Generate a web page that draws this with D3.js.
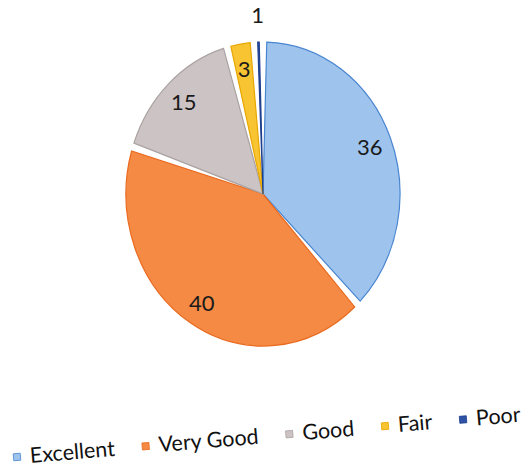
<!DOCTYPE html>
<html><head><meta charset="utf-8">
<script src="https://cdn.jsdelivr.net/npm/d3@7"></script>
<style>html,body{margin:0;padding:0;background:#fff;}</style>
</head><body>
<svg id="c" width="532" height="470"></svg>
<script>
const categories = ["Excellent", "Very Good", "Good", "Fair", "Poor"];
const values = [36, 40, 15, 3, 1];
const fills = ["#9ec4ee", "#f58a45", "#ccc4c4", "#f8c432", "#2d52a6"];
const edges = ["#4a86d0", "#ea6a1e", "#aaa1a1", "#e8a700", "#1f3f8f"];

const svg = d3.select("#c");
const cx = 263, cy = 194, R = 145;
const sx = 137 / R, sy = 152 / R;

const pie = d3.pie().sort(null).value(d => d)(values);
const arc = d3.arc().innerRadius(0).outerRadius(R).padAngle(0.055).padRadius(R);

const g = svg.append("g").attr("transform", `translate(${cx},${cy}) scale(${sx},${sy})`);
g.selectAll("path").data(pie).join("path")
  .attr("d", arc)
  .attr("fill", (d, i) => fills[i])
  .attr("stroke", (d, i) => edges[i])
  .attr("stroke-width", 1.2)
  .attr("vector-effect", "non-scaling-stroke");

// labels
const labelR = d => (d.endAngle - d.startAngle) < 0.1 ? 1.18 * R : 0.84 * R;
svg.append("g").selectAll("text").data(pie).join("text")
  .attr("x", d => cx + sx * labelR(d) * Math.sin((d.startAngle + d.endAngle) / 2))
  .attr("y", d => cy - sy * labelR(d) * Math.cos((d.startAngle + d.endAngle) / 2))
  .attr("text-anchor", "middle")
  .attr("dominant-baseline", "central")
  .attr("font-family", "Lato, 'Open Sans', sans-serif")
  .attr("font-size", 22)
  .attr("fill", "#1a1a1a")
  .text(d => d.data);

// legend (tilted like the photo)
const leg = svg.append("g").attr("transform", "translate(17,457) rotate(-4.8)");
let x = 0;
categories.forEach((c, i) => {
  const it = leg.append("g").attr("transform", `translate(${x},0)`);
  it.append("rect").attr("x", -3.5).attr("y", -3.5).attr("width", 7).attr("height", 7)
    .attr("fill", fills[i]).attr("stroke", edges[i]).attr("stroke-width", 0.8);
  const t = it.append("text").attr("x", 13).attr("y", 7)
    .attr("font-family", "Lato, 'Open Sans', sans-serif")
    .attr("font-size", 21.5).attr("fill", "#111").text(c);
  const w = t.node().getComputedTextLength();
  x += 13 + w + 31;
});
</script>
</body></html>
